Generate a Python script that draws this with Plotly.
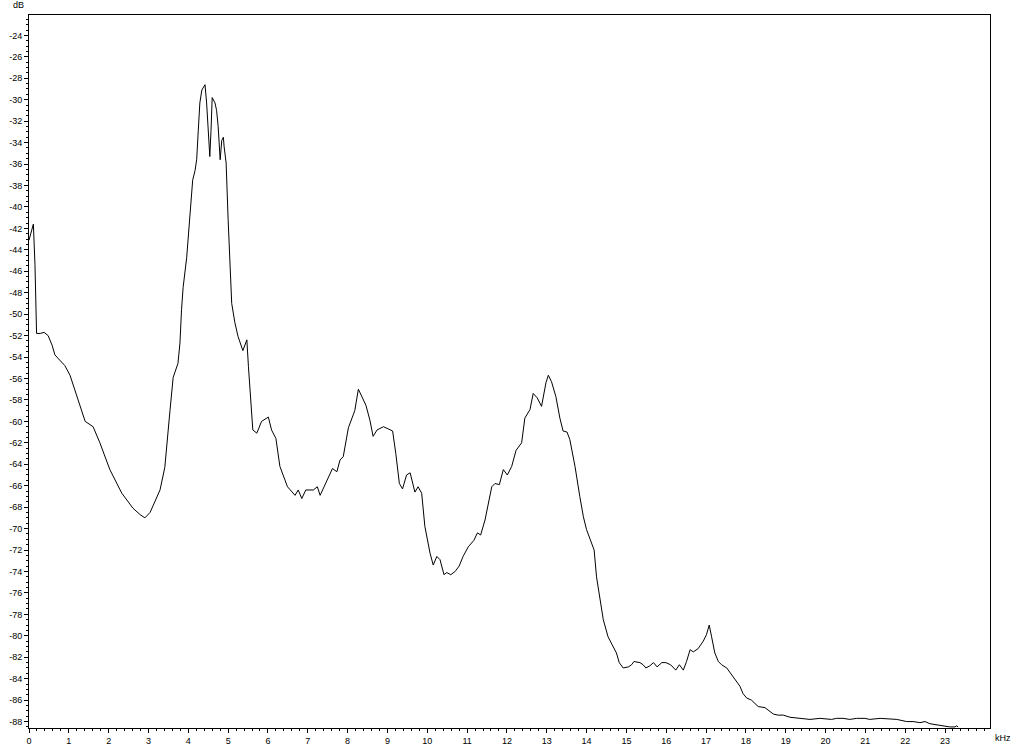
import plotly.graph_objects as go

freq_khz = [0.00, 0.05, 0.11, 0.15, 0.19, 0.28, 0.38, 0.48, 0.58, 0.65, 0.78, 0.90, 1.03, 1.15, 1.28, 1.41, 1.61, 1.78, 2.03, 2.33,
            2.61, 2.79, 2.91, 3.04, 3.29, 3.41, 3.54, 3.62, 3.74, 3.79, 3.83, 3.87, 3.96, 4.04, 4.11, 4.17, 4.21, 4.25, 4.29, 4.34,
            4.42, 4.46, 4.50, 4.54, 4.57, 4.60, 4.67, 4.71, 4.75, 4.80, 4.84, 4.88, 4.90, 4.95, 5.00, 5.05, 5.09, 5.17, 5.25, 5.37,
            5.47, 5.51, 5.62, 5.72, 5.84, 6.01, 6.09, 6.20, 6.30, 6.38, 6.49, 6.68, 6.76, 6.85, 6.95, 7.14, 7.24, 7.31, 7.47, 7.62,
            7.73, 7.81, 7.89, 8.02, 8.14, 8.18, 8.27, 8.35, 8.46, 8.56, 8.64, 8.74, 8.90, 9.02, 9.13, 9.21, 9.30, 9.38, 9.48, 9.57,
            9.69, 9.77, 9.86, 9.94, 10.07, 10.15, 10.24, 10.32, 10.42, 10.49, 10.59, 10.70, 10.80, 10.90, 11.03, 11.17, 11.26, 11.34, 11.45, 11.62,
            11.70, 11.81, 11.91, 12.01, 12.12, 12.23, 12.37, 12.45, 12.58, 12.66, 12.76, 12.87, 12.98, 13.04, 13.12, 13.23, 13.33, 13.41, 13.51, 13.58,
            13.71, 13.83, 13.92, 14.00, 14.13, 14.19, 14.25, 14.34, 14.42, 14.54, 14.67, 14.75, 14.82, 14.92, 15.05, 15.13, 15.19, 15.34, 15.42, 15.49,
            15.59, 15.68, 15.77, 15.89, 15.99, 16.11, 16.24, 16.33, 16.43, 16.51, 16.60, 16.68, 16.80, 16.93, 17.01, 17.08, 17.14, 17.22, 17.31, 17.39,
            17.52, 17.64, 17.73, 17.85, 17.93, 18.02, 18.14, 18.23, 18.31, 18.48, 18.56, 18.69, 18.81, 18.94, 19.11, 19.36, 19.61, 19.86, 20.03, 20.15,
            20.28, 20.44, 20.61, 20.78, 20.99, 21.11, 21.37, 21.62, 21.79, 22.04, 22.20, 22.37, 22.50, 22.62, 22.79, 22.95, 23.12, 23.25, 23.29, 23.33]

level_db = [-43.1, -42.4, -41.6, -45.4, -51.8, -51.8, -51.7, -52.0, -52.9, -53.8, -54.3, -54.8, -55.7, -57.1, -58.5, -60.0, -60.5, -62.0, -64.5, -66.7,
            -68.1, -68.7, -69.0, -68.5, -66.4, -64.3, -59.0, -55.9, -54.6, -52.7, -49.6, -47.5, -44.7, -40.3, -37.5, -36.6, -35.6, -32.9, -30.3, -29.1,
            -28.6, -30.3, -32.9, -35.3, -32.9, -29.8, -30.3, -31.0, -32.5, -35.6, -33.8, -33.5, -34.4, -35.9, -41.2, -45.9, -49.0, -50.8, -52.1, -53.4,
            -52.4, -54.9, -60.8, -61.1, -60.0, -59.6, -60.8, -61.6, -64.2, -65.0, -66.1, -66.9, -66.4, -67.2, -66.4, -66.4, -66.1, -66.9, -65.6, -64.4,
            -64.7, -63.6, -63.3, -60.6, -59.4, -59.0, -57.0, -57.6, -58.5, -59.9, -61.4, -60.8, -60.5, -60.7, -60.9, -63.0, -65.8, -66.3, -65.0, -64.8,
            -66.6, -66.1, -66.7, -69.8, -72.3, -73.4, -72.6, -72.9, -74.3, -74.1, -74.3, -74.0, -73.5, -72.6, -71.7, -71.1, -70.4, -70.6, -69.2, -66.1,
            -65.8, -65.9, -64.5, -65.0, -64.2, -62.7, -62.0, -59.7, -58.9, -57.4, -57.8, -58.6, -56.4, -55.7, -56.3, -57.7, -59.7, -60.9, -61.0, -61.7,
            -64.2, -67.0, -68.9, -70.1, -71.3, -72.0, -74.5, -76.7, -78.5, -80.1, -81.0, -81.6, -82.5, -83.0, -82.9, -82.7, -82.4, -82.5, -82.7, -83.0,
            -82.8, -82.5, -82.9, -82.5, -82.5, -82.7, -83.2, -82.7, -83.2, -82.4, -81.3, -81.5, -81.2, -80.5, -79.9, -79.0, -80.1, -81.6, -82.4, -82.7,
            -83.0, -83.6, -84.1, -84.7, -85.4, -85.8, -86.0, -86.3, -86.6, -86.7, -86.9, -87.3, -87.4, -87.4, -87.6, -87.7, -87.8, -87.7, -87.8, -87.8,
            -87.7, -87.7, -87.8, -87.7, -87.7, -87.8, -87.7, -87.8, -87.8, -88.0, -88.0, -88.1, -88.0, -88.2, -88.3, -88.4, -88.5, -88.5, -88.4, -88.5]

x_ticks = list(range(0, 24))
y_ticks = list(range(-88, -22, 2))

fig = go.Figure()
fig.add_trace(go.Scatter(x=freq_khz, y=level_db, mode="lines",
                         line=dict(color="black", width=1), hoverinfo="skip"))

tick_font = dict(family="Liberation Sans, Arial, sans-serif", size=9, color="black")

fig.update_xaxes(range=[0, 24.13], tickvals=x_ticks, ticktext=[str(v) for v in x_ticks],
                 ticks="outside", ticklen=4, tickcolor="black", tickwidth=1,
                 minor=dict(dtick=0.2, tick0=0, ticks="outside", ticklen=2, tickcolor="black", tickwidth=1),
                 showline=True, linecolor="black", linewidth=1, mirror=True,
                 showgrid=False, zeroline=False, tickfont=tick_font, automargin=False)
fig.update_yaxes(range=[-88.6, -22.1], tickvals=y_ticks, ticktext=[str(v) for v in y_ticks],
                 ticks="outside", ticklen=4, tickcolor="black", tickwidth=1,
                 minor=dict(dtick=0.5, tick0=0, ticks="outside", ticklen=2, tickcolor="black", tickwidth=1),
                 showline=True, linecolor="black", linewidth=1, mirror=True,
                 showgrid=False, zeroline=False, tickfont=tick_font, automargin=False)

fig.add_annotation(text="dB", xref="paper", yref="paper", x=-0.011, y=1.0, xanchor="center", yanchor="bottom",
                   yshift=3, showarrow=False, font=tick_font)
fig.add_annotation(text="kHz", xref="paper", yref="paper", x=1.0, y=0.0, xanchor="left", yanchor="top",
                   xshift=3, yshift=-3, showarrow=False, font=tick_font)

fig.update_layout(width=1024, height=745, margin=dict(l=29, r=34, t=15, b=17),
                  paper_bgcolor="white", plot_bgcolor="white", showlegend=False)

# remove the page's default body margin so the figure sits at the window's top-left corner
fig.write_html("out.html", config={"displayModeBar": False},
               post_script="document.body.style.margin='0';document.body.style.overflow='hidden';")
